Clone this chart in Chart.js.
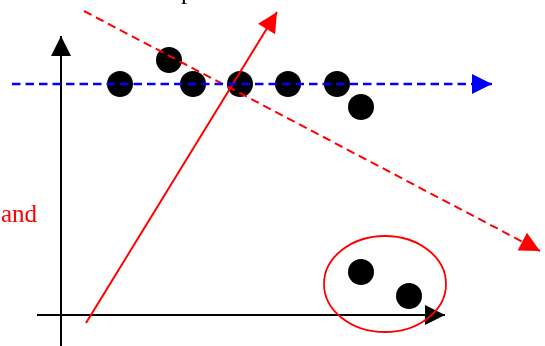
<!DOCTYPE html>
<html>
<head>
<meta charset="utf-8">
<script src="https://cdn.jsdelivr.net/npm/chart.js@4.4.1/dist/chart.umd.min.js"></script>
<style>
    body { margin: 0; background: #fff; }
    #wrap { width: 545px; height: 346px; position: relative; }
</style>
</head>
<body>
<div id="wrap"><canvas id="diagram"></canvas></div>
<script>
// Black dots (x, y with y measured upwards from the bottom edge)
const dotX = [120, 169, 193, 240, 288, 337, 361, 361, 409];
const dotY = [262, 286, 262, 262, 262, 262, 239, 74, 50];

// Lines: start and arrow tip
const blueLineX = [12, 492];
const blueLineY = [262, 262];
const redDashX = [84, 540];
const redDashY = [335, 95];
const redSolidX = [86, 277];
const redSolidY = [23, 334];
const axisXX = [37, 445];
const axisXY = [31, 31];
const axisYX = [61, 61];
const axisYY = [-5, 310];

// Red ellipse round the two lower dots
const ellipseCenter = [385, 62];
const ellipseRadius = [61, 48];

// Texts
const sideLabel = 'and';
const topLabel = 'p';

function toPoints(xs, ys) {
    return xs.map((x, i) => ({ x: x, y: ys[i] }));
}

function lineSet(xs, ys, color, width, dash) {
    return {
        data: toPoints(xs, ys),
        showLine: true,
        borderColor: color,
        backgroundColor: color,
        borderWidth: width,
        borderDash: dash || [],
        borderCapStyle: 'butt',
        pointRadius: 0,
        arrow: true,
        order: 1,
        clip: false
    };
}

// draws a filled arrow head at the last point of each line
const arrowHeads = {
    id: 'arrowHeads',
    afterDatasetDraw(chart, args) {
        const ds = chart.data.datasets[args.index];
        if (!ds.arrow) return;
        const pts = args.meta.data;
        const a = pts[pts.length - 2];
        const b = pts[pts.length - 1];
        const ang = Math.atan2(b.y - a.y, b.x - a.x);
        const len = 20, half = 10;
        const ctx = chart.ctx;
        ctx.save();
        ctx.fillStyle = ds.borderColor;
        ctx.beginPath();
        ctx.moveTo(b.x, b.y);
        ctx.lineTo(b.x - len * Math.cos(ang) - half * Math.sin(ang), b.y - len * Math.sin(ang) + half * Math.cos(ang));
        ctx.lineTo(b.x - len * Math.cos(ang) + half * Math.sin(ang), b.y - len * Math.sin(ang) - half * Math.cos(ang));
        ctx.closePath();
        ctx.fill();
        ctx.restore();
    }
};

// ellipse and the two texts
const extras = {
    id: 'extras',
    afterDatasetsDraw(chart) {
        const ctx = chart.ctx;
        const sx = chart.scales.x, sy = chart.scales.y;
        const cx = sx.getPixelForValue(ellipseCenter[0]);
        const cy = sy.getPixelForValue(ellipseCenter[1]);
        const rx = sx.getPixelForValue(ellipseCenter[0] + ellipseRadius[0]) - cx;
        const ry = cy - sy.getPixelForValue(ellipseCenter[1] + ellipseRadius[1]);
        ctx.save();
        ctx.strokeStyle = '#ff0000';
        ctx.lineWidth = 1.8;
        ctx.beginPath();
        ctx.ellipse(cx, cy, rx, ry, 0, 0, Math.PI * 2);
        ctx.stroke();

        ctx.font = '25px "Liberation Serif", "Times New Roman", serif';
        ctx.textBaseline = 'alphabetic';
        ctx.textAlign = 'left';
        ctx.fillStyle = '#ff0000';
        ctx.fillText(sideLabel, 1, 222);
        ctx.fillStyle = '#000000';
        ctx.fillText(topLabel, 181, -1);
        ctx.restore();
    }
};

const ctx = document.getElementById('diagram').getContext('2d');
new Chart(ctx, {
    type: 'scatter',
    data: {
        datasets: [
            lineSet(blueLineX, blueLineY, '#0000ff', 2.4, [8.5, 5]),
            lineSet(redDashX, redDashY, '#ff0000', 2, [8.5, 5]),
            lineSet(redSolidX, redSolidY, '#ff0000', 2),
            lineSet(axisXX, axisXY, '#000000', 2),
            lineSet(axisYX, axisYY, '#000000', 2),
            {
                data: toPoints(dotX, dotY),
                pointRadius: 13,
                pointHoverRadius: 13,
                pointBackgroundColor: '#000000',
                pointBorderWidth: 0,
                order: 5,
                clip: false
            }
        ]
    },
    options: {
        responsive: true,
        maintainAspectRatio: false,
        animation: false,
        events: [],
        layout: { padding: 0, autoPadding: false },
        plugins: {
            legend: { display: false },
            tooltip: { enabled: false }
        },
        scales: {
            x: { type: 'linear', min: 0, max: 545, display: false },
            y: { type: 'linear', min: 0, max: 346, display: false }
        }
    },
    plugins: [arrowHeads, extras]
});
</script>
</body>
</html>
